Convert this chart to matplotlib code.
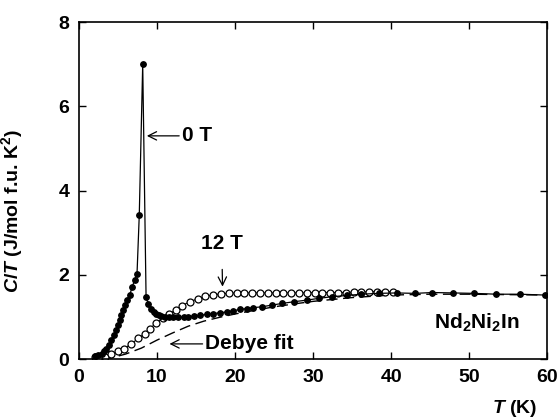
import matplotlib
matplotlib.use("Agg")
import matplotlib.pyplot as plt

plt.rcParams["font.family"] = ["Liberation Sans", "DejaVu Sans"]
plt.rcParams["font.weight"] = "bold"
plt.rcParams["mathtext.fontset"] = "custom"
plt.rcParams["mathtext.rm"] = "Liberation Sans:bold"
plt.rcParams["mathtext.it"] = "Liberation Sans:italic:bold"
plt.rcParams["mathtext.bf"] = "Liberation Sans:bold"

# data
T_0T = [2.1, 2.5, 2.9, 3.2, 3.5, 3.8, 4.15, 4.45, 4.78, 5.0, 5.2, 5.45, 5.64, 5.9,
        6.2, 6.5, 6.84, 7.14, 7.44, 7.73, 8.17, 8.6, 8.9, 9.27, 9.6, 9.9, 10.2,
        10.55, 11.0, 11.5, 12.1, 12.7, 13.4, 14.0, 14.7, 15.5, 16.4, 17.2, 18.1,
        19.0, 19.8, 20.7, 21.5, 22.3, 23.4, 24.7, 26.0, 27.5, 29.2, 30.7, 32.4,
        34.3, 36.2, 38.4, 40.7, 43.1, 45.3, 48.0, 50.6, 53.5, 56.5, 59.7]
CT_0T = [0.08, 0.1, 0.13, 0.18, 0.25, 0.34, 0.45, 0.56, 0.69, 0.8, 0.93, 1.04, 1.16,
         1.28, 1.4, 1.52, 1.72, 1.88, 2.02, 3.42, 7.0, 1.48, 1.3, 1.18, 1.12, 1.08,
         1.05, 1.02, 1.0, 0.99, 0.99, 0.99, 1.0, 1.01, 1.02, 1.04, 1.06, 1.08, 1.1,
         1.12, 1.15, 1.18, 1.2, 1.22, 1.24, 1.28, 1.32, 1.36, 1.4, 1.44, 1.48, 1.51,
         1.54, 1.56, 1.57, 1.56, 1.58, 1.57, 1.56, 1.54, 1.54, 1.52]

T_12T = [2.0, 2.6, 3.3, 4.1, 5.0, 5.8, 6.7, 7.6, 8.4, 9.1, 9.9, 10.8, 11.6, 12.4,
         13.2, 14.2, 15.2, 16.2, 17.2, 18.2, 19.2, 20.2, 21.2, 22.2, 23.2, 24.2,
         25.2, 26.2, 27.2, 28.2, 29.2, 30.2, 31.2, 32.2, 33.2, 34.2, 35.2, 36.2,
         37.2, 38.2, 39.2, 40.2]
CT_12T = [0.04, 0.04, 0.05, 0.11, 0.18, 0.25, 0.36, 0.49, 0.6, 0.72, 0.86, 0.97,
          1.07, 1.17, 1.27, 1.36, 1.43, 1.49, 1.52, 1.55, 1.56, 1.57, 1.57, 1.57,
          1.57, 1.57, 1.57, 1.57, 1.57, 1.57, 1.57, 1.58, 1.58, 1.58, 1.58, 1.58,
          1.59, 1.59, 1.6, 1.6, 1.6, 1.6]

T_debye = [3, 4, 5, 6, 7, 8, 10, 12, 14, 16, 18, 20, 22, 25, 28, 30, 35, 40, 45,
           50, 55, 60]
CT_debye = [0.0, 0.03, 0.07, 0.12, 0.19, 0.26, 0.45, 0.62, 0.78, 0.9, 0.99, 1.07,
            1.14, 1.24, 1.32, 1.37, 1.46, 1.52, 1.54, 1.54, 1.53, 1.52]

fig = plt.figure(figsize=(5.6, 4.18), dpi=100)
ax = fig.add_axes([0.141, 0.141, 0.836, 0.806])

ax.plot(T_debye, CT_debye, color="black", lw=1.0, dashes=(8, 4))
ax.plot(T_12T, CT_12T, color="black", lw=0.8, marker="o", ms=5,
        mfc="white", mec="black", mew=0.9)
ax.plot(T_0T, CT_0T, color="black", lw=0.9, marker="o", ms=3.9,
        mfc="black", mec="black")

arrow = dict(arrowstyle="->", color="black", lw=0.9, shrinkA=0, shrinkB=0)
ax.annotate("0 T", xy=(8.7, 5.3), xytext=(13.2, 5.3), fontsize=15,
            fontweight="bold", va="center", arrowprops=arrow)
ax.annotate("12 T", xy=(18.4, 1.72), xytext=(18.3, 2.75), fontsize=15,
            fontweight="bold", ha="center", va="center",
            arrowprops=dict(arrow, shrinkA=10))
ax.annotate("Debye fit", xy=(11.6, 0.36), xytext=(16.2, 0.36), fontsize=15,
            fontweight="bold", va="center", arrowprops=arrow)
ax.text(51.0, 0.86, r"Nd$_2$Ni$_2$In", fontsize=15, fontweight="bold",
        ha="center", va="center")

ax.set_xlim(0, 60)
ax.set_ylim(0, 8)
ax.set_xticks([0, 10, 20, 30, 40, 50, 60])
ax.set_yticks([0, 2, 4, 6, 8])
ax.tick_params(direction="in", top=True, right=True, length=5, width=1,
               labelsize=14, pad=7)
for lab in ax.get_xticklabels() + ax.get_yticklabels():
    lab.set_fontweight("bold")
for sp in ax.spines.values():
    sp.set_linewidth(1.2)

ax.set_ylabel(r"$C/T$ (J/mol f.u. K$^2$)", fontsize=14, fontweight="bold")
ax.yaxis.set_label_coords(-0.115, 0.44)
ax.set_xlabel(r"$T$ (K)", fontsize=14, fontweight="bold", ha="right")
ax.xaxis.set_label_coords(0.98, -0.115)

fig.savefig("out.png", dpi=100)
